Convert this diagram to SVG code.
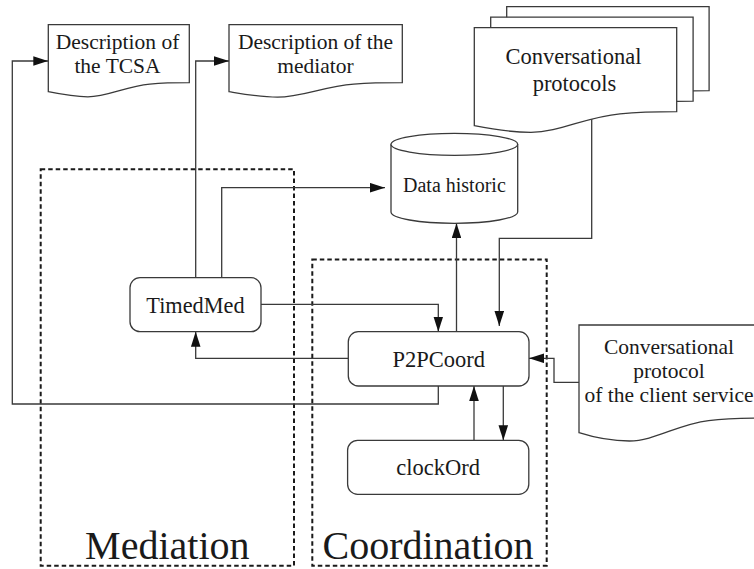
<svg xmlns="http://www.w3.org/2000/svg" width="754" height="569" viewBox="0 0 754 569">
<style>
text{font-family:'Liberation Serif','Times New Roman',serif;fill:#1a1a1a;text-anchor:middle}
.box{fill:#fff;stroke:#3a3a3a;stroke-width:1.3}
.c{fill:none;stroke:#3a3a3a;stroke-width:1.3}
.zone{fill:none;stroke:#1a1a1a;stroke-width:2;stroke-dasharray:4.5,3}
</style>
<defs>
<marker id="arr" viewBox="0 0 15 9.6" refX="15" refY="4.8" markerWidth="15" markerHeight="9.6" orient="auto" markerUnits="userSpaceOnUse">
<path d="M0,0 L15,4.8 L0,9.6 z" fill="#111"/>
</marker>
<path id="convdoc" d="M474.3,27.7 H676.7 V111.7 C656.5,111.7 636.2,112.3 620,113.9 C585.6,117 559.3,132.3 531,132.3 C510.7,132.3 490.5,129 474.3,125.7 Z"/>
</defs>
<rect width="754" height="569" fill="#fff"/>

<g id="zones">
<rect class="zone" x="40.7" y="169.3" width="253.3" height="396.4"/>
<rect class="zone" x="312.3" y="259.5" width="234.4" height="306.2"/>
<text x="167.3" y="559.3" font-size="40">Mediation</text>
<text x="428" y="559.3" font-size="40">Coordination</text>
</g>

<g id="connectors">
<path class="c" d="M195.7,277.7 V61 H229" marker-end="url(#arr)"/>
<path class="c" d="M438.3,386 V404 H12.3 V61 H48.3" marker-end="url(#arr)"/>
<path class="c" d="M221.7,277.7 V187.7 H385" marker-end="url(#arr)"/>
<path class="c" d="M261,304.3 H438.3 V331.7" marker-end="url(#arr)"/>
<path class="c" d="M348.3,358.3 H195.7 V331.7" marker-end="url(#arr)"/>
<path class="c" d="M456.5,331.7 V223.3" marker-end="url(#arr)"/>
<path class="c" d="M591.7,118 V238.3 H499.3 V326" marker-end="url(#arr)"/>
<path class="c" d="M579,382.3 H554 V358.3 H529" marker-end="url(#arr)"/>
<path class="c" d="M474,440.3 V386" marker-end="url(#arr)"/>
<path class="c" d="M503.3,386 V440.3" marker-end="url(#arr)"/>
</g>

<g id="desc-tcsa">
<path class="box" d="M48.3,24.7 H189.3 V82.7 C175.2,82.7 161.1,83.1 149.8,84.1 C125.9,86.2 107.5,96.8 87.8,96.8 C73.7,96.8 59.6,94 48.3,91.7 Z"/>
<text x="117.5" y="49.3" font-size="21.5">Description of</text>
<text x="117.5" y="72.7" font-size="21.5">the TCSA</text>
</g>

<g id="desc-mediator">
<path class="box" d="M229,24.7 H402.3 V82.7 C385,82.7 367.6,83.1 353.8,84.1 C324.3,86.2 301.8,97.2 277.5,97.2 C260.2,97.2 242.9,94 229,91.7 Z"/>
<text x="315.5" y="49.3" font-size="21.5">Description of the</text>
<text x="315.5" y="72.7" font-size="21.5">mediator</text>
</g>

<g id="conv-protocols">
<use href="#convdoc" class="box" transform="translate(32.4,-21)"/>
<use href="#convdoc" class="box" transform="translate(16.4,-10.5)"/>
<use href="#convdoc" class="box"/>
<text x="573.5" y="64.3" font-size="22.5">Conversational</text>
<text x="574.5" y="90.7" font-size="22.5">protocols</text>
</g>

<g id="data-historic">
<path class="box" d="M391,144.3 V212 A63.35,11.3 0 0 0 517.7,212 V144.3"/>
<ellipse class="box" cx="454.35" cy="144.3" rx="63.35" ry="11"/>
<text x="454.4" y="191.7" font-size="20">Data historic</text>
</g>

<g id="timedmed">
<rect class="box" x="130" y="277.7" width="131" height="54" rx="10"/>
<text x="195.5" y="313.3" font-size="22.3">TimedMed</text>
</g>

<g id="p2pcoord">
<rect class="box" x="348.3" y="331.7" width="180.7" height="54.3" rx="10"/>
<text x="438.7" y="366.7" font-size="22.5">P2PCoord</text>
</g>

<g id="clockord">
<rect class="box" x="347.6" y="440.3" width="181.2" height="54" rx="10"/>
<text x="438.2" y="475" font-size="22.5">clockOrd</text>
</g>

<g id="client-protocol">
<path class="box" d="M579,325 H759 V418.2 C741,418.2 723,418.8 708.6,420.6 C678,424.1 654.6,441 629.4,441 C611.4,441 593.4,437.3 579,432.7 Z"/>
<text x="669" y="354" font-size="21.5">Conversational</text>
<text x="669" y="378.3" font-size="21.5">protocol</text>
<text x="669" y="402.3" font-size="21.5">of the client service</text>
</g>
</svg>
